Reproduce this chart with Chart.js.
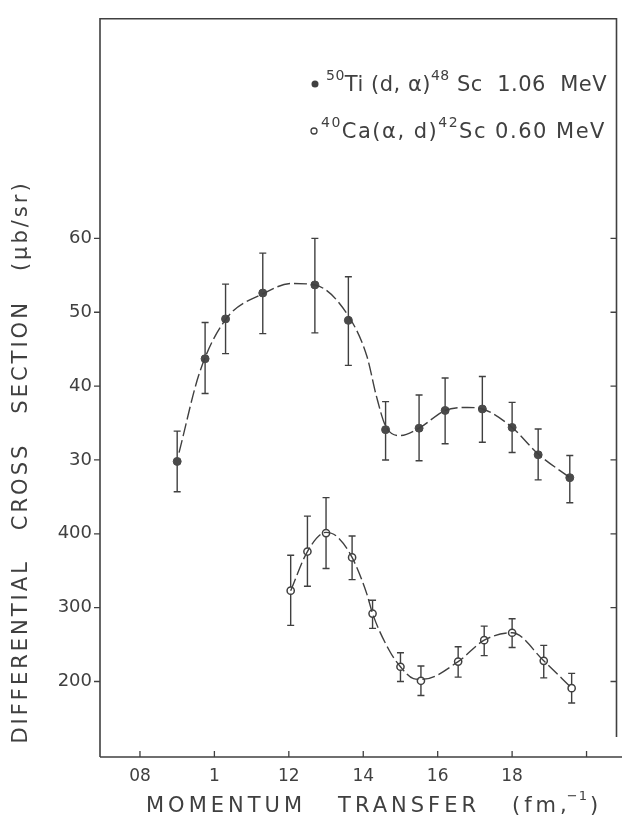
<!DOCTYPE html>
<html>
<head>
<meta charset="utf-8">
<script src="https://cdn.jsdelivr.net/npm/chart.js@4.4.1/dist/chart.umd.min.js"></script>
<style>
  html, body { margin: 0; padding: 0; background: #fff; }
</style>
</head>
<body>
<canvas id="grafico" width="622" height="829"></canvas>
<script>
// 50Ti(d,α)48Sc 1.06 MeV  (puntos llenos, escala superior 30-60)
const tiX     = [0.90, 0.975, 1.03, 1.13, 1.27, 1.36, 1.46, 1.55, 1.62, 1.72, 1.80, 1.87, 1.955];
const tiY     = [29.8, 43.7, 49.1, 52.6, 53.7, 48.9, 34.1, 34.3, 36.7, 36.9, 34.4, 30.7, 27.6];
const tiAlto  = [33.9, 48.6, 53.8, 58.0, 60.0, 54.8, 37.9, 38.8, 41.1, 41.3, 37.8, 34.2, 30.6];
const tiBajo  = [25.7, 39.0, 44.4, 47.1, 47.2, 42.8, 30.0, 29.9, 32.2, 32.4, 31.0, 27.3, 24.2];
// curva teórica (discontinua)
const tiCurvaX = [0.905, 0.96, 1.03, 1.13, 1.21, 1.27, 1.36, 1.41, 1.435, 1.46, 1.50, 1.55, 1.62, 1.68, 1.72, 1.80, 1.87, 1.955];
const tiCurvaY = [31.0, 41.8, 49.0, 52.5, 53.9, 53.7, 49.5, 44.0, 38.7, 34.6, 33.3, 34.3, 36.7, 37.1, 36.9, 34.4, 30.8, 27.6];

// 40Ca(α,d)42Sc 0.60 MeV  (puntos vacíos, escala inferior 200-400)
const caX     = [1.205, 1.25, 1.30, 1.37, 1.425, 1.50, 1.555, 1.655, 1.725, 1.80, 1.885, 1.96];
const caY     = [323, 376, 401, 368, 292, 220, 201, 227, 256, 266, 228, 191];
const caAlto  = [371, 424, 449, 397, 310, 239, 221, 247, 275, 285, 249, 211];
const caBajo  = [276, 329, 353, 338, 272, 200, 181, 206, 235, 246, 205, 171];
const caCurvaX = [1.205, 1.25, 1.30, 1.33, 1.37, 1.41, 1.425, 1.47, 1.50, 1.535, 1.56, 1.655, 1.725, 1.80, 1.885, 1.96];
const caCurvaY = [323, 376, 402, 396, 368, 318, 292, 242, 220, 204, 203, 227, 256, 266, 228, 191];

// marcas de los ejes
const xTicks = [0.8, 1.0, 1.2, 1.4, 1.6, 1.8, 2.0];
const xTickLabels = ['08', '1', '12', '14', '16', '18', ''];
const yTicksCa = [200, 300, 400];
const yTicksTi = [30, 40, 50, 60];

// la escala superior comparte el eje: valorTi*10 + 200 = valorCa
const TI_FACTOR = 10, TI_OFFSET = 200;
const Y_MIN = 97.8, Y_MAX = 1097.3;

const tinta = '#404040';
const fuente = '"DejaVu Sans", sans-serif';

const toPts = (xs, ys) => xs.map((x, i) => ({ x: x, y: ys[i] }));

// Dibuja el marco, las marcas y las barras de error
const marcoPlugin = {
    id: 'marco',
    beforeDatasetsDraw(chart) {
        const ctx = chart.ctx;
        const xs = chart.scales.x;
        ctx.save();
        ctx.strokeStyle = tinta;
        ctx.lineWidth = 1.4;
        const barras = (xsArr, alto, bajo, escala) => {
            const ys = chart.scales[escala];
            xsArr.forEach((xv, i) => {
                const px = xs.getPixelForValue(xv);
                const pTop = ys.getPixelForValue(alto[i]);
                const pBot = ys.getPixelForValue(bajo[i]);
                ctx.beginPath();
                ctx.moveTo(px, pTop); ctx.lineTo(px, pBot);
                ctx.moveTo(px - 3.5, pTop); ctx.lineTo(px + 3.5, pTop);
                ctx.moveTo(px - 3.5, pBot); ctx.lineTo(px + 3.5, pBot);
                ctx.stroke();
            });
        };
        barras(tiX, tiAlto, tiBajo, 'yTi');
        barras(caX, caAlto, caBajo, 'y');
        ctx.restore();
    },
    afterDraw(chart) {
        const ctx = chart.ctx;
        const a = chart.chartArea;
        const xs = chart.scales.x, ys = chart.scales.y;
        ctx.save();
        ctx.strokeStyle = tinta;
        ctx.lineWidth = 1.6;
        ctx.beginPath();
        ctx.moveTo(a.left, a.bottom); ctx.lineTo(a.left, a.top);
        ctx.lineTo(a.right, a.top); ctx.lineTo(a.right, a.bottom - 20);
        ctx.moveTo(a.left, a.bottom); ctx.lineTo(622, a.bottom);
        ctx.stroke();

        ctx.lineWidth = 1.3;
        ctx.beginPath();
        ys.ticks.forEach(t => {
            const py = ys.getPixelForValue(t.value);
            ctx.moveTo(a.left - 6, py); ctx.lineTo(a.left, py);
            ctx.moveTo(a.right - 6, py); ctx.lineTo(a.right, py);
        });
        xTicks.forEach(v => {
            const px = xs.getPixelForValue(v);
            ctx.moveTo(px, a.bottom); ctx.lineTo(px, a.bottom - 6);
        });
        ctx.stroke();

        // títulos de los ejes
        ctx.fillStyle = tinta;
        ctx.font = '21px ' + fuente;
        ctx.textAlign = 'center';
        ctx.textBaseline = 'middle';
        ctx.letterSpacing = '3px';
        ctx.save();
        ctx.translate(22, 462);
        ctx.rotate(-Math.PI / 2);
        ctx.fillText('DIFFERENTIAL   CROSS   SECTION   (μb/sr)', 0, 0);
        ctx.restore();

        ctx.letterSpacing = '4px';
        ctx.textAlign = 'left';
        ctx.fillText('MOMENTUM   TRANSFER   (fm,', 146, 807);
        const w = ctx.measureText('MOMENTUM   TRANSFER   (fm,').width;
        ctx.font = '13px ' + fuente;
        ctx.letterSpacing = '1px';
        ctx.fillText('−1', 146 + w - 4, 797);
        const w2 = ctx.measureText('−1').width;
        ctx.font = '21px ' + fuente;
        ctx.fillText(')', 146 + w - 4 + w2 + 2, 807);

        // leyenda
        ctx.textBaseline = 'alphabetic';
        const linea = (x, y, partes, esp) => {
            ctx.letterSpacing = esp + 'px';
            partes.forEach(p => {
                if (p[1]) {
                    ctx.font = '14px ' + fuente;
                    ctx.fillText(p[0], x, y - 11);
                } else {
                    ctx.font = '21px ' + fuente;
                    ctx.fillText(p[0], x, y);
                }
                x += ctx.measureText(p[0]).width;
            });
        };
        ctx.beginPath();
        ctx.arc(315, 84, 3.5, 0, Math.PI * 2);
        ctx.fill();
        linea(326, 91, [['50', true], ['Ti (d, α)', false], ['48', true], [' Sc  1.06  MeV', false]], 0.5);
        ctx.beginPath();
        ctx.lineWidth = 1.3;
        ctx.arc(314, 131, 3, 0, Math.PI * 2);
        ctx.stroke();
        linea(321, 138, [['40', true], ['Ca(α, d)', false], ['42', true], ['Sc 0.60 MeV', false]], 1.5);
        ctx.restore();
    }
};

const chart = new Chart(document.getElementById('grafico'), {
    type: 'line',
    data: {
        datasets: [
            {
                label: 'curva Ti',
                data: toPts(tiCurvaX, tiCurvaY),
                yAxisID: 'yTi',
                borderColor: tinta,
                borderWidth: 1.4,
                borderDash: [13, 4],
                pointRadius: 0,
                cubicInterpolationMode: 'monotone',
                fill: false
            },
            {
                label: 'curva Ca',
                data: toPts(caCurvaX, caCurvaY),
                yAxisID: 'y',
                borderColor: tinta,
                borderWidth: 1.4,
                borderDash: [13, 4],
                pointRadius: 0,
                cubicInterpolationMode: 'monotone',
                fill: false
            },
            {
                label: '50Ti(d,α)48Sc 1.06 MeV',
                data: toPts(tiX, tiY),
                yAxisID: 'yTi',
                showLine: false,
                pointRadius: 4,
                pointBackgroundColor: '#4a4a4a',
                pointBorderColor: '#4a4a4a',
                pointBorderWidth: 1
            },
            {
                label: '40Ca(α,d)42Sc 0.60 MeV',
                data: toPts(caX, caY),
                yAxisID: 'y',
                showLine: false,
                pointRadius: 3.6,
                pointBackgroundColor: '#ffffff',
                pointBorderColor: tinta,
                pointBorderWidth: 1.5
            }
        ]
    },
    options: {
        responsive: false,
        animation: false,
        devicePixelRatio: 1,
        layout: { padding: { top: 14, right: 5, left: 0, bottom: 0 } },
        plugins: {
            legend: { display: false },
            tooltip: { enabled: false }
        },
        scales: {
            x: {
                type: 'linear',
                min: 0.6926,
                max: 2.0805,
                grid: { display: false, drawTicks: false },
                border: { display: false },
                afterBuildTicks: (s) => { s.ticks = xTicks.map(v => ({ value: v })); },
                afterFit: (s) => { s.height = 72; },
                ticks: {
                    autoSkip: false,
                    maxRotation: 0,
                    padding: 9,
                    color: tinta,
                    font: { family: fuente, size: 17 },
                    callback: (v) => xTickLabels[xTicks.findIndex(t => Math.abs(t - v) < 1e-6)]
                }
            },
            y: {
                type: 'linear',
                position: 'left',
                min: Y_MIN,
                max: Y_MAX,
                grid: { display: false, drawTicks: false },
                border: { display: false },
                afterBuildTicks: (s) => {
                    s.ticks = yTicksCa.map(v => ({ value: v }))
                        .concat(yTicksTi.map(v => ({ value: v * TI_FACTOR + TI_OFFSET })));
                },
                afterFit: (s) => { s.width = 100; },
                ticks: {
                    autoSkip: false,
                    padding: 8,
                    color: tinta,
                    font: { family: fuente, size: 18 },
                    callback: (v) => yTicksCa.includes(v) ? String(v) : String((v - TI_OFFSET) / TI_FACTOR)
                }
            },
            yTi: {
                type: 'linear',
                display: false,
                min: (Y_MIN - TI_OFFSET) / TI_FACTOR,
                max: (Y_MAX - TI_OFFSET) / TI_FACTOR
            }
        }
    },
    plugins: [marcoPlugin]
});
</script>
</body>
</html>
